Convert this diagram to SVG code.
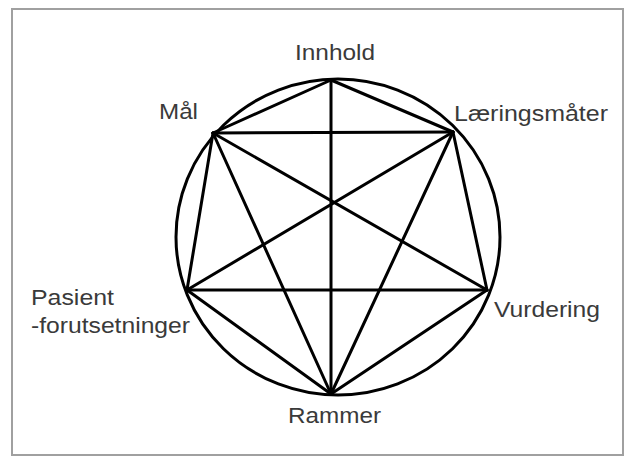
<svg xmlns="http://www.w3.org/2000/svg" width="625" height="457" viewBox="0 0 625 457">
<style>
.lbl{font-family:"Liberation Sans",Arial,sans-serif;font-size:22px;fill:#3a3a3a}
.e{stroke:#000;stroke-width:3;fill:none;stroke-linecap:round}
</style>
<rect x="0" y="0" width="625" height="457" fill="#fff"/>
<rect x="12" y="9" width="611" height="446" fill="#fff" stroke="#a0a0a0" stroke-width="2"/>
<ellipse class="e" cx="338" cy="237" rx="162" ry="158"/>
<g id="connectors">
<line class="e" x1="331" y1="80" x2="213" y2="133"/>
<line class="e" x1="331" y1="80" x2="453" y2="132"/>
<line class="e" x1="331" y1="80" x2="331" y2="394"/>
<line class="e" x1="213" y1="133" x2="453" y2="132"/>
<line class="e" x1="213" y1="133" x2="187" y2="290"/>
<line class="e" x1="213" y1="133" x2="487" y2="290"/>
<line class="e" x1="213" y1="133" x2="331" y2="394"/>
<line class="e" x1="453" y1="132" x2="487" y2="290"/>
<line class="e" x1="453" y1="132" x2="187" y2="290"/>
<line class="e" x1="453" y1="132" x2="331" y2="394"/>
<line class="e" x1="187" y1="290" x2="487" y2="290"/>
<line class="e" x1="187" y1="290" x2="331" y2="394"/>
<line class="e" x1="487" y1="290" x2="331" y2="394"/>
</g>
<g id="innhold"><text class="lbl" x="295" y="60" textLength="80" lengthAdjust="spacingAndGlyphs">Innhold</text></g>
<g id="maal"><text class="lbl" x="159" y="119" textLength="39" lengthAdjust="spacingAndGlyphs">Mål</text></g>
<g id="laeringsmaater"><text class="lbl" x="454" y="121" textLength="154" lengthAdjust="spacingAndGlyphs">Læringsmåter</text></g>
<g id="pasient"><text class="lbl" x="31" y="305" textLength="83" lengthAdjust="spacingAndGlyphs">Pasient</text><text class="lbl" x="31" y="333" textLength="159" lengthAdjust="spacingAndGlyphs">-forutsetninger</text></g>
<g id="vurdering"><text class="lbl" x="494" y="317" textLength="106" lengthAdjust="spacingAndGlyphs">Vurdering</text></g>
<g id="rammer"><text class="lbl" x="288" y="423" textLength="93" lengthAdjust="spacingAndGlyphs">Rammer</text></g>
</svg>
